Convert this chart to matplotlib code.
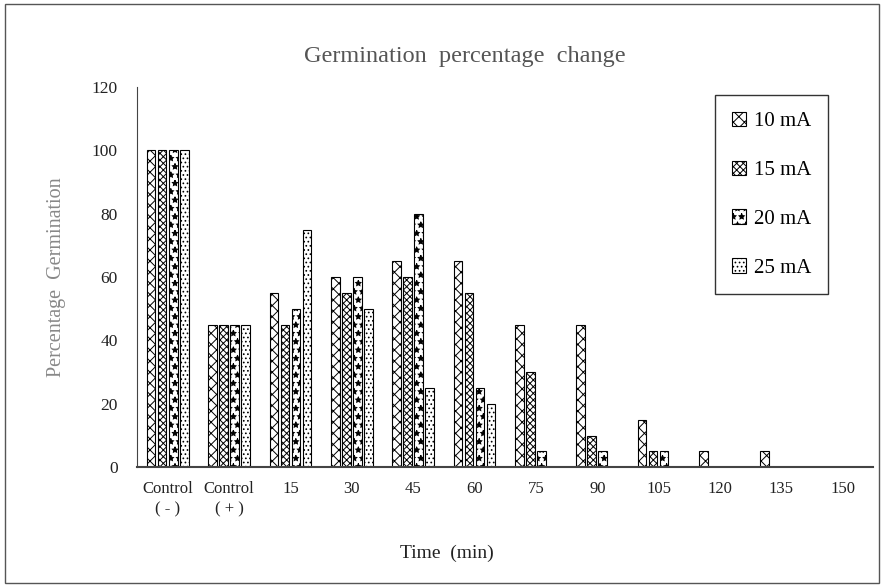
import numpy as np
import matplotlib
matplotlib.use('Agg')
import matplotlib.pyplot as plt
from matplotlib.patches import Rectangle

# Data
categories = ['Control\n( - )', 'Control\n( + )', '15', '30', '45', '60',
              '75', '90', '105', '120', '135', '150']
series_names = ['10 mA', '15 mA', '20 mA', '25 mA']
ma10 = [100, 45, 55, 60, 65, 65, 45, 45, 15, 5, 5, 0]
ma15 = [100, 45, 45, 55, 60, 55, 30, 10, 5, 0, 0, 0]
ma20 = [100, 45, 50, 60, 80, 25, 5, 5, 5, 0, 0, 0]
ma25 = [100, 45, 75, 50, 25, 20, 0, 0, 0, 0, 0, 0]
y_ticks = [0, 20, 40, 60, 80, 100, 120]

plt.rcParams['font.family'] = ['Liberation Serif', 'DejaVu Serif']
plt.rcParams['hatch.linewidth'] = 0.7

fig = plt.figure(figsize=(8.84, 5.87), dpi=100)
ax = fig.add_axes([0.155, 0.204, 0.833, 0.648])

# outer frame around the whole chart
fig.patches.append(Rectangle((0.006, 0.006), 0.988, 0.988, transform=fig.transFigure,
                             fill=False, edgecolor='#555555', linewidth=1.0))

x = np.arange(len(categories))
step = 0.18
width = 0.14
hatches = ['xxx', 'xxxxx', '**', '....']
for i, (vals, name) in enumerate(zip([ma10, ma15, ma20, ma25], series_names)):
    ax.bar(x + (i - 1.5) * step, vals, width, label=name, color='white',
           edgecolor='black', hatch=hatches[i], linewidth=0.8)

ax.set_xlim(-0.5, len(categories) - 0.5)
ax.set_ylim(0, 120)
ax.set_yticks(y_ticks)
ax.set_xticks(x)
ax.set_xticklabels(categories, fontsize=12, color='#222222', linespacing=1.35)
ax.tick_params(axis='both', length=0, colors='#222222')
ax.tick_params(axis='y', pad=14, labelsize=12.5)
ax.tick_params(axis='x', pad=10)

for s in ['top', 'right']:
    ax.spines[s].set_visible(False)
ax.spines['left'].set_color('#444444')
ax.spines['bottom'].set_color('#444444')
ax.spines['bottom'].set_linewidth(1.5)

ax.set_ylabel('Percentage  Germination', fontsize=14.5, color='#888888', labelpad=18)
fig.text(0.506, 0.058, 'Time  (min)', fontsize=14, color='#222222',
         ha='center', va='center')
fig.text(0.526, 0.903, 'Germination  percentage  change', fontsize=17.5,
         color='#555555', ha='center', va='center')

leg = ax.legend(loc='upper left', bbox_to_anchor=(0.809, 0.838),
                bbox_transform=fig.transFigure, fontsize=15, frameon=True,
                fancybox=False, edgecolor='black', labelspacing=1.4,
                borderpad=0.8, handlelength=0.7, handleheight=0.7,
                handletextpad=0.35, borderaxespad=0)
leg.get_frame().set_linewidth(1.0)

fig.savefig('out.png', dpi=100)
